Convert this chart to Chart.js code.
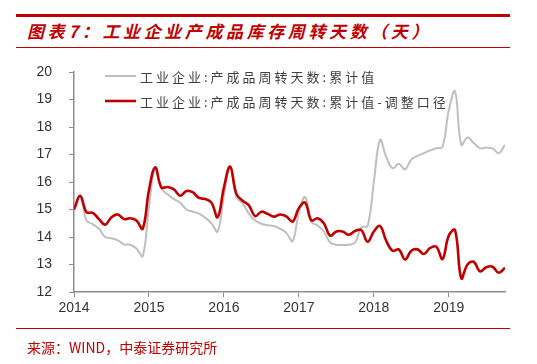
<!DOCTYPE html>
<html>
<head>
<meta charset="utf-8">
<script src="https://cdn.jsdelivr.net/npm/chart.js@4"></script>
<style>
  body { margin: 0; background: #fff; }
  #wrap { position: relative; width: 537px; height: 364px; overflow: hidden; font-family: "Noto Sans CJK SC", sans-serif; }
  .rule { position: absolute; left: 16px; width: 494px; background: #C00000; }
  #title { position: absolute; left: 27px; top: 19px; font-size: 17px; font-weight: bold; font-style: italic; color: #C00000; letter-spacing: 3.6px; line-height: 24px; white-space: nowrap; }
  #source { position: absolute; left: 27px; top: 338px; font-size: 14px; color: #C00000; line-height: 18px; white-space: nowrap; }
  #chart { position: absolute; left: 0; top: 0; }
</style>
</head>
<body>
<div id="wrap">
  <div class="rule" style="top:14px;height:3px"></div>
  <div id="title">图表7：工业企业产成品库存周转天数（天）</div>
  <div class="rule" style="top:47px;height:1px"></div>
  <canvas id="chart" width="537" height="364"></canvas>
  <div class="rule" style="top:328px;height:1px"></div>
  <div id="source">来源：WIND，中泰证券研究所</div>
</div>
<script>
// monthly, 2014-01 .. 2019-10 (index = months since 2014-01)
const yearLabels = ['2014', '2015', '2016', '2017', '2018', '2019']

const cumulativeLabel = '工业企业:产成品周转天数:累计值'
const cumulative = [
  15.0, 15.45, 14.6, 14.47, 14.3, 14.0, 13.95, 13.88, 13.73, 13.72, 13.58, 13.3,
  15.1, 16.53, 15.75, 15.55, 15.38, 15.25, 15.0, 14.92, 14.85, 14.7, 14.5, 14.2,
  15.5, 16.56, 15.45, 15.22, 14.85, 14.6, 14.48, 14.43, 14.4, 14.3, 14.15, 13.85,
  14.9, 15.45, 14.55, 14.42, 14.2, 13.8, 13.72, 13.71, 13.72, 13.8, 14.35, 14.4,
  16.0, 17.53, 16.9, 16.5, 16.66, 16.46, 16.82, 16.95, 17.05, 17.15, 17.23, 17.28,
  18.6, 19.3, 17.35, 17.62, 17.42, 17.23, 17.25, 17.22, 17.05, 17.35
]

const adjustedLabel = '工业企业:产成品周转天数:累计值-调整口径'
const adjusted = [
  15.0, 15.5, 14.9, 14.88, 14.65, 14.45, 14.72, 14.82, 14.65, 14.68, 14.6, 14.3,
  15.7, 16.53, 15.8, 15.82, 15.73, 15.5, 15.67, 15.63, 15.42, 15.38, 15.25, 14.72,
  15.8, 16.56, 15.57, 15.32, 15.15, 14.76, 14.92, 14.84, 14.74, 14.82, 14.75, 14.56,
  15.05, 15.25, 14.6, 14.68, 14.5, 14.05, 14.2, 14.2, 14.08, 14.22, 14.25, 13.83,
  14.2, 14.4, 13.85, 13.5, 13.55, 13.18, 13.5, 13.55, 13.38, 13.6, 13.65, 13.2,
  14.05, 14.25, 12.5, 13.0, 13.1, 12.75, 12.9, 12.92, 12.7, 12.88
]

const toPoints = arr => arr.map((v, i) => ({x: i, y: v}))

// legend drawn inside the plot, two rows at top left
const insideLegend = {
  id: 'insideLegend',
  afterDatasetsDraw(chart) {
    const ctx = chart.ctx
    const area = chart.chartArea
    ctx.save()
    ctx.font = '13px "Noto Sans CJK SC"'
    ctx.letterSpacing = '3px'
    ctx.textBaseline = 'middle'
    chart.data.datasets.forEach((ds, row) => {
      const y = area.top + 4 + row * 25
      const x = area.left + 31
      ctx.strokeStyle = ds.borderColor
      ctx.lineWidth = ds.borderWidth
      ctx.beginPath()
      ctx.moveTo(x, y)
      ctx.lineTo(x + 31, y)
      ctx.stroke()
      ctx.fillStyle = '#404040'
      ctx.fillText(ds.label, x + 35, y + 1)
    })
    ctx.restore()
  }
}

const axisColor = '#8c8c8c'

new Chart(document.getElementById('chart'), {
  type: 'line',
  data: {
    datasets: [
      {
        label: cumulativeLabel,
        data: toPoints(cumulative),
        borderColor: '#bfbfbf',
        borderWidth: 2,
        pointRadius: 0,
        tension: 0.4,
        order: 1
      },
      {
        label: adjustedLabel,
        data: toPoints(adjusted),
        borderColor: '#c00000',
        borderWidth: 2.6,
        pointRadius: 0,
        tension: 0.4,
        order: 0
      }
    ]
  },
  options: {
    responsive: false,
    animation: false,
    layout: { padding: { left: 0, right: 32, top: 72, bottom: 42 } },
    plugins: { legend: { display: false }, tooltip: { enabled: false } },
    scales: {
      x: {
        type: 'linear',
        min: 0,
        max: 69,
        afterFit: s => { s.height = 30 },
        grid: { drawOnChartArea: false, drawTicks: true, tickLength: 5, color: axisColor },
        border: { color: axisColor, width: 1.5 },
        ticks: {
          stepSize: 12,
          includeBounds: false,
          autoSkip: false,
          maxRotation: 0,
          padding: 3,
          color: '#333',
          font: { family: 'Liberation Sans, Arial', size: 14 },
          callback: v => yearLabels[v / 12]
        }
      },
      y: {
        min: 12,
        max: 20,
        afterFit: s => { s.width = 74 },
        grid: { drawOnChartArea: false, drawTicks: true, tickLength: 5, color: axisColor },
        border: { color: axisColor, width: 1.5 },
        ticks: {
          stepSize: 1,
          padding: 17,
          color: '#333',
          font: { family: 'Liberation Sans, Arial', size: 14 }
        }
      }
    }
  },
  plugins: [insideLegend]
})
</script>
</body>
</html>
